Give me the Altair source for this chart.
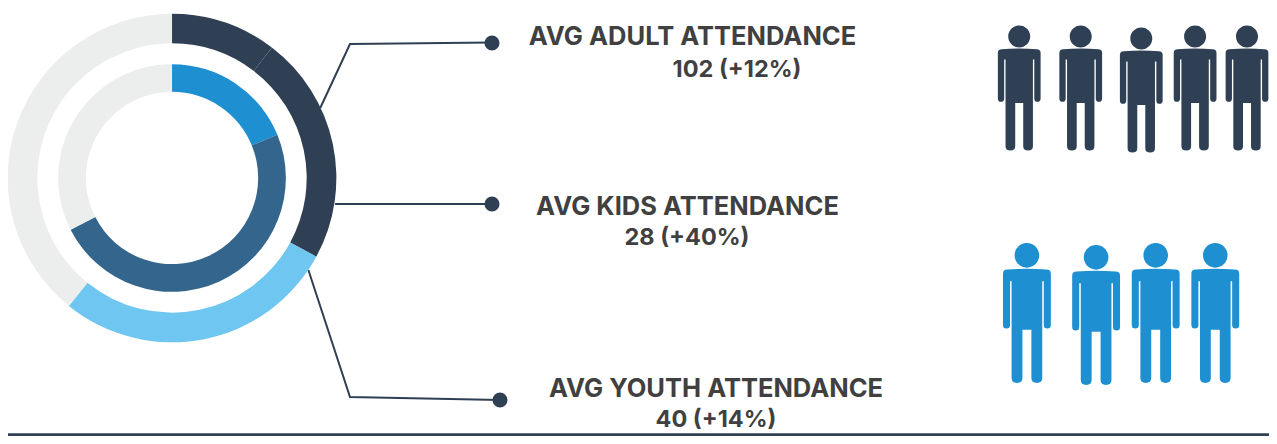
import altair as alt
import pandas as pd

MARGIN = 8
W, H = 1261, 428            # room left inside the page's 8px margin
# reference pixel -> drawn pixel; identity in the middle, squeezed only where content meets the margins
X_REF = [4, 340, 1000, 1257, 1278]
X_OUT = [8, 340, 1000, 1247, 1269]
Y_REF = [8, 400, 444]
Y_OUT = [8, 400, 436]
RING_SCALE = 0.99
DARK, MID, BRIGHT, LIGHT, GRAY = "#2f4054", "#34668d", "#1e90d2", "#6fc6f0", "#eceeed"
TEXT = "#404040"
FONT = "Inter"

# ring segments, degrees clockwise from 12 o'clock
outer_start = [0, 37.4, 118.6, 218.9]
outer_end = [37.4, 118.6, 218.9, 360]
outer_color = [DARK, DARK, LIGHT, GRAY]
inner_start = [0, 67.7, 243]
inner_end = [67.7, 243, 360]
inner_color = [BRIGHT, MID, GRAY]
ring_cx, ring_cy = [170], [178]

# leaders
leader_id = [0, 0, 0, 1, 1, 2, 2, 2]
leader_order = [0, 1, 2, 0, 1, 0, 1, 2]
leader_x = [320, 350, 492, 335, 492, 308, 350, 500]
leader_y = [108, 44, 42.5, 204, 204, 270, 397, 400]
dot_x = [492, 492, 500]
dot_y = [43, 204, 400]

# labels
heading_text = ["AVG ADULT ATTENDANCE", "AVG KIDS ATTENDANCE", "AVG YOUTH ATTENDANCE"]
heading_x = [692.5, 687.5, 716]
heading_y = [37, 207, 389]
value_text = ["102 (+12%)", "28 (+40%)", "40 (+14%)"]
value_x = [737, 687, 716]
value_y = [70, 238, 424]

# people
dark_x = [1020, 1084, 1147, 1203, 1257]
dark_y = [88, 88, 90, 88, 88]
blue_x = [1028, 1100, 1162, 1224]
blue_y = [313, 315, 313, 313]

PERSON = (
    "M-0.176,-0.824 C-0.176,-0.921 -0.097,-1 0,-1 C0.097,-1 0.176,-0.921 0.176,-0.824 "
    "C0.176,-0.727 0.097,-0.648 0,-0.648 C-0.097,-0.648 -0.176,-0.727 -0.176,-0.824 Z "
    "M-0.342,-0.56 Q-0.342,-0.62 -0.28,-0.62 Q0,-0.645 0.28,-0.62 Q0.342,-0.62 0.342,-0.56 "
    "L0.342,0.17 Q0.342,0.22 0.292,0.22 Q0.241,0.22 0.241,0.17 L0.241,-0.455 L0.219,-0.455 "
    "L0.219,0.93 Q0.219,1 0.142,1 Q0.064,1 0.064,0.93 L0.064,0.24 L-0.064,0.24 L-0.064,0.93 "
    "Q-0.064,1 -0.142,1 Q-0.219,1 -0.219,0.93 L-0.219,-0.455 L-0.241,-0.455 L-0.241,0.17 "
    "Q-0.241,0.22 -0.292,0.22 Q-0.342,0.22 -0.342,0.17 Z"
)

xs = alt.Scale(domain=X_REF, range=[v - MARGIN for v in X_OUT], nice=False, zero=False)
ys = alt.Scale(domain=Y_REF, range=[v - MARGIN for v in Y_OUT], nice=False, zero=False)
X = alt.X("x:Q", scale=xs, axis=None)
Y = alt.Y("y:Q", scale=ys, axis=None)
ts = alt.Scale(domain=[0, 360], range=[0, 6.283185307])


def ring(starts, ends, colors, r, r2):
    df = pd.DataFrame({"a": starts, "b": ends, "c": colors, "x": ring_cx * len(starts), "y": ring_cy * len(starts)})
    return alt.Chart(df).mark_arc(radius=r * RING_SCALE, radius2=r2 * RING_SCALE).encode(
        x=X, y=Y,
        theta=alt.Theta("a:Q", scale=ts),
        theta2="b:Q",
        color=alt.Color("c:N", scale=None),
    )


def people(xv, yv, color, height):
    df = pd.DataFrame({"x": xv, "y": yv})
    return alt.Chart(df).mark_point(
        shape=PERSON, filled=True, fill=color, opacity=1, size=height ** 2, strokeWidth=0
    ).encode(x=X, y=Y)


def texts(t, x, y, size):
    return alt.Chart(pd.DataFrame({"x": x, "y": y, "t": t})).mark_text(
        font=FONT, fontWeight=700, fontSize=size, color=TEXT, align="center", baseline="middle"
    ).encode(x=X, y=Y, text="t:N")


leaders = alt.Chart(pd.DataFrame({"x": leader_x, "y": leader_y, "id": leader_id, "o": leader_order})).mark_line(
    color=DARK, strokeWidth=2
).encode(x=X, y=Y, detail="id:N", order="o:Q")
dots = alt.Chart(pd.DataFrame({"x": dot_x, "y": dot_y})).mark_circle(size=227, color=DARK, opacity=1).encode(x=X, y=Y)
base_line = alt.Chart(pd.DataFrame({"x": [X_REF[0]], "x2": [X_REF[-1]], "y": [442.5]})).mark_rule(
    color=DARK, strokeWidth=3
).encode(x=X, x2="x2:Q", y=Y)

chart = alt.layer(
    leaders,
    ring(outer_start, outer_end, outer_color, 166, 136),
    ring(inner_start, inner_end, inner_color, 115, 87),
    dots,
    texts(heading_text, heading_x, heading_y, 25.5),
    texts(value_text, value_x, value_y, 23.5),
    base_line,
    people(dark_x, dark_y, DARK, 125),
    people(blue_x, blue_y, BRIGHT, 140),
).properties(
    width=W, height=H, padding=0, background="white",
    autosize=alt.AutoSizeParams(type="none"),
).configure_view(stroke=None)

chart.save("out.html", embed_options={"renderer": "svg", "actions": False})
